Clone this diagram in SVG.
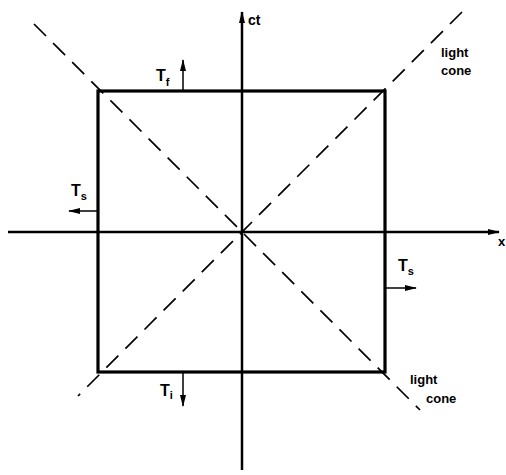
<svg xmlns="http://www.w3.org/2000/svg" width="506" height="475" viewBox="0 0 506 475">
<defs>
<marker id="ahs" viewBox="0 0 12 10" refX="11" refY="5" markerWidth="12" markerHeight="10" markerUnits="userSpaceOnUse" orient="auto">
<path d="M0,2 L12,5 L0,8 z" fill="#000"/>
</marker>
</defs>
<style>
.axis{stroke:#000;stroke-width:2.5;fill:none}
.box{stroke:#000;stroke-width:3.2;fill:none}
.cone{stroke:#000;stroke-width:1.7;fill:none;stroke-dasharray:17 10}
.arr{stroke:#000;stroke-width:1.5;fill:none}
text{font-family:"Liberation Sans",Arial,sans-serif;font-weight:bold;fill:#000}
.lbl{font-size:16px}
.sub{font-size:11px}
.cl{font-size:13px}
</style>
<rect width="506" height="475" fill="#fff"/>
<g id="light-cones">
<line class="cone" x1="34" y1="24" x2="420" y2="410"/>
<line class="cone" x1="462" y1="12" x2="78" y2="396"/>
</g>
<g id="box">
<rect class="box" x="98" y="91" width="287" height="281"/>
</g>
<g id="connectors">
<line class="axis" x1="242" y1="470" x2="242" y2="12" marker-end="url(#ahs)"/>
<line class="axis" x1="8" y1="232" x2="499" y2="232" marker-end="url(#ahs)"/>
<line class="arr" x1="183" y1="90" x2="183" y2="60" marker-end="url(#ahs)"/>
<line class="arr" x1="97" y1="211" x2="69" y2="211" marker-end="url(#ahs)"/>
<line class="arr" x1="386" y1="288" x2="416" y2="288" marker-end="url(#ahs)"/>
<line class="arr" x1="183" y1="373" x2="183" y2="406" marker-end="url(#ahs)"/>
</g>
<g id="labels">
<text x="248" y="25" class="lbl" style="font-size:14px">ct</text>
<text x="498" y="246" class="lbl" style="font-size:13px">x</text>
<text x="156" y="81" class="lbl">T<tspan class="sub" dy="5">f</tspan></text>
<text x="71" y="196" class="lbl">T<tspan class="sub" dy="4">s</tspan></text>
<text x="398" y="271" class="lbl">T<tspan class="sub" dy="4">s</tspan></text>
<text x="160" y="396" class="lbl">T<tspan class="sub" dy="3">i</tspan></text>
<text x="441" y="57" class="cl">light</text>
<text x="441" y="75" class="cl">cone</text>
<text x="410" y="384" class="cl">light</text>
<text x="426" y="403" class="cl">cone</text>
</g>
</svg>
